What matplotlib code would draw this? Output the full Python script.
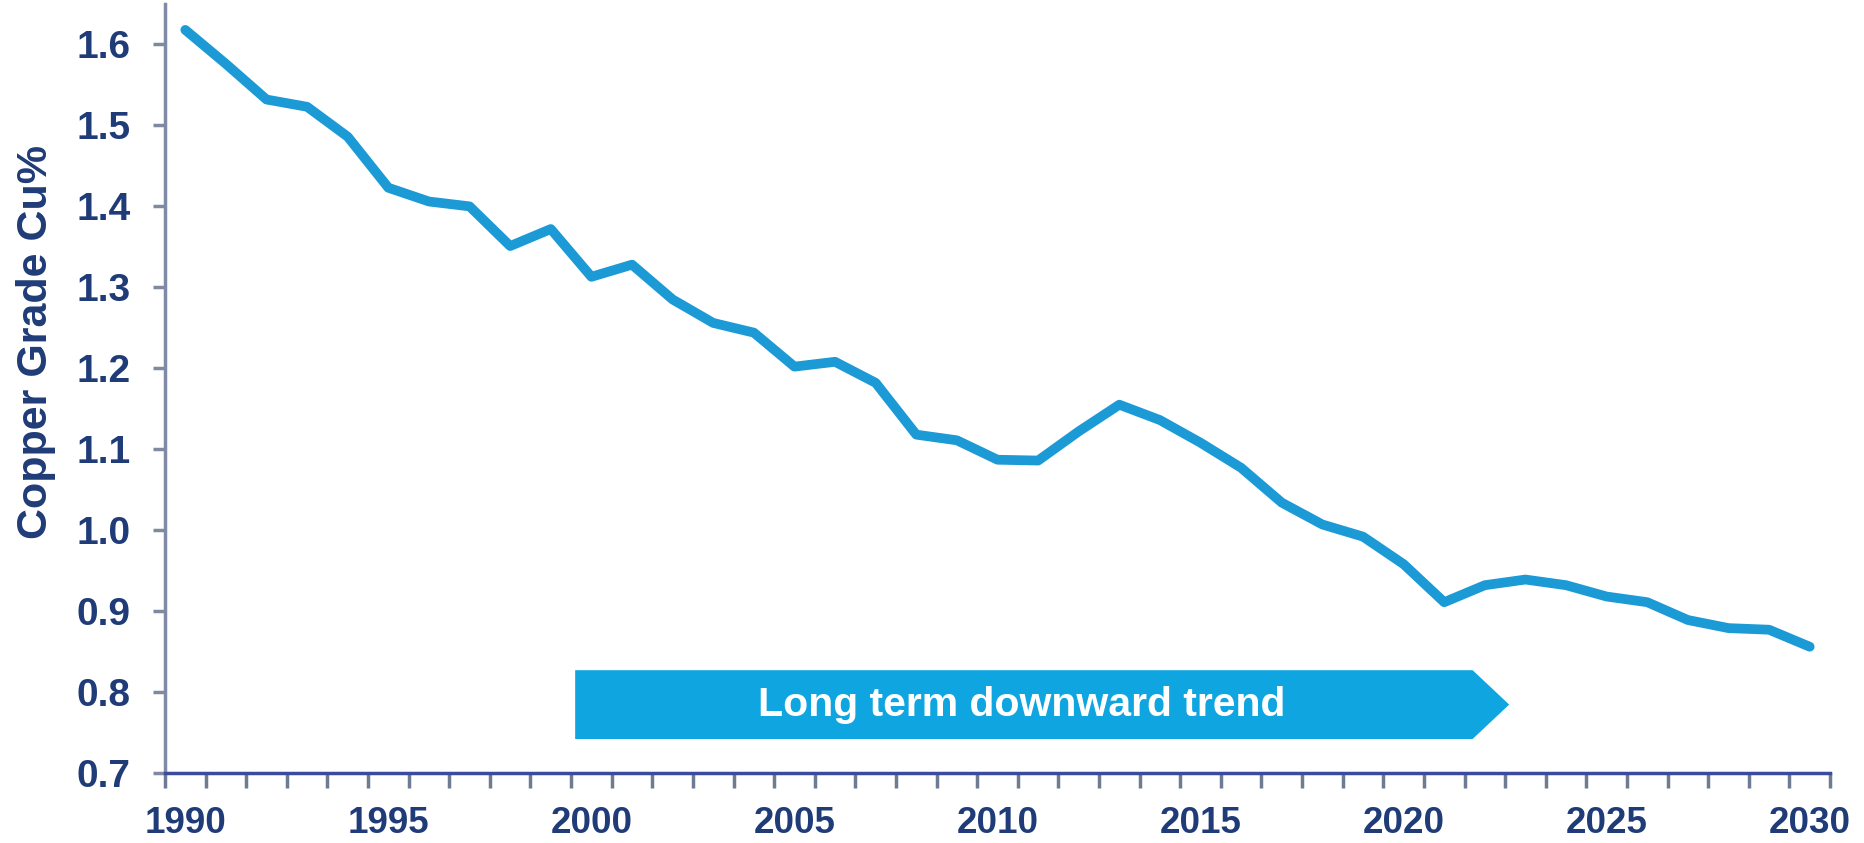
import matplotlib
matplotlib.use("Agg")
import matplotlib.pyplot as plt
from matplotlib.patches import Polygon

plt.rcParams['font.family'] = ['Liberation Sans', 'DejaVu Sans']

years = list(range(1990, 2031))
grade = [1.618, 1.576, 1.532, 1.523, 1.486, 1.423, 1.406, 1.400, 1.351, 1.372,
         1.313, 1.328, 1.285, 1.256, 1.244, 1.202, 1.208, 1.182, 1.118, 1.111,
         1.087, 1.086, 1.122, 1.155, 1.136, 1.108, 1.077, 1.034, 1.007, 0.992,
         0.958, 0.911, 0.932, 0.939, 0.932, 0.918, 0.911, 0.889, 0.879, 0.877,
         0.856]
yticks = [0.7, 0.8, 0.9, 1.0, 1.1, 1.2, 1.3, 1.4, 1.5, 1.6]
xlabel_years = [1990, 1995, 2000, 2005, 2010, 2015, 2020, 2025, 2030]
ylabel = "Copper Grade Cu%"
arrow_text = "Long term downward trend"
arrow_start, arrow_body_end, arrow_tip = 1999.6, 2021.7, 2022.6
arrow_low, arrow_high = 0.742, 0.827

navy = "#1f3c78"
line_c = "#1b9ad6"
arrow_c = "#0ea5e0"

fig = plt.figure(figsize=(18.65, 8.43), dpi=100)
ax = fig.add_axes([165/1865, 1 - 773/843, (1830-165)/1865, (773-4)/843])

ax.plot(years, grade, color=line_c, lw=7, solid_joinstyle='round', solid_capstyle='round', zorder=3)

ax.set_xlim(years[0] - 0.5, years[-1] + 0.5)
ax.set_ylim(0.7, 1.65)

# year boundaries as tick marks, labels at category centers
ax.set_xticks([y - 0.5 for y in years] + [years[-1] + 0.5])
ax.set_xticklabels([])
ax.tick_params(axis='x', which='major', length=11, width=2.5, color="#6f7b92", direction='out')
ax.set_xticks(xlabel_years, minor=True)
ax.set_xticklabels([str(y) for y in xlabel_years], minor=True)
ax.tick_params(axis='x', which='minor', length=0, pad=24, labelsize=26.5, labelcolor=navy)
for lab in ax.get_xticklabels(minor=True):
    lab.set_fontweight('bold')

ax.set_yticks(yticks)
ax.set_yticklabels([f"{v:.1f}" for v in yticks])
ax.tick_params(axis='y', length=9, width=2.5, color="#7f8aa0", pad=16, labelsize=28, labelcolor=navy)
for lab in ax.get_yticklabels():
    lab.set_fontweight('bold')

for s in ['top', 'right']:
    ax.spines[s].set_visible(False)
ax.spines['left'].set_color("#7f8aa6")
ax.spines['left'].set_linewidth(2.5)
ax.spines['bottom'].set_color("#3a4a9c")
ax.spines['bottom'].set_linewidth(2.5)
ax.spines['bottom'].set_zorder(5)

# arrow shape
poly = Polygon([(arrow_start, arrow_low), (arrow_body_end, arrow_low),
                (arrow_tip, (arrow_low + arrow_high) / 2), (arrow_body_end, arrow_high),
                (arrow_start, arrow_high)], closed=True, facecolor=arrow_c, edgecolor='none', zorder=2)
ax.add_patch(poly)
ax.text(2010.6, (arrow_low + arrow_high) / 2, arrow_text, color='white', fontsize=29.5,
        fontweight='bold', ha='center', va='center', zorder=4)

fig.text(36/1865, 1 - 342/843, ylabel, rotation=90, color=navy, fontsize=31,
         fontweight='bold', ha='center', va='center')

fig.savefig("out.png", dpi=100, facecolor='white')
